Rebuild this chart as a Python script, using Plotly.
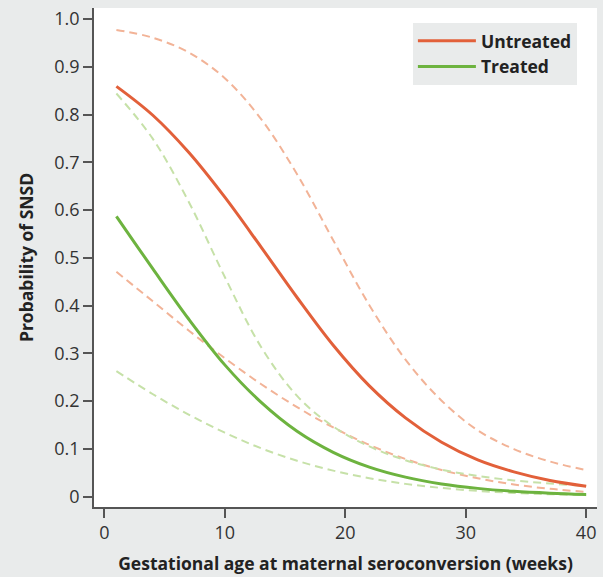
import plotly.graph_objects as go

weeks = [1, 4, 7, 10, 13, 16, 19, 22, 25, 28, 31, 34, 37, 40]

untreated = [0.859, 0.799, 0.721, 0.627, 0.523, 0.417, 0.317, 0.232, 0.165, 0.114, 0.077, 0.052, 0.034, 0.022]
untreated_upper = [0.977, 0.961, 0.930, 0.876, 0.791, 0.675, 0.537, 0.401, 0.287, 0.201, 0.139, 0.0998, 0.0737, 0.0557]
untreated_lower = [0.471, 0.4095, 0.348, 0.290, 0.236, 0.1875, 0.145, 0.1085, 0.079, 0.056, 0.0386, 0.0257, 0.0165, 0.0102]

treated = [0.587, 0.478, 0.372, 0.276, 0.198, 0.137, 0.093, 0.062, 0.041, 0.0268, 0.0175, 0.0113, 0.0074, 0.0048]
treated_upper = [0.844, 0.750, 0.6175, 0.460, 0.314, 0.211, 0.147, 0.1053, 0.0765, 0.0567, 0.0435, 0.0342, 0.0276, 0.0227]
treated_lower = [0.263, 0.215, 0.172, 0.134, 0.1016, 0.0753, 0.0547, 0.0388, 0.0269, 0.0183, 0.0122, 0.0080, 0.0052, 0.0033]

x_ticks = [0, 10, 20, 30, 40]
y_ticks = [0, 0.1, 0.2, 0.3, 0.4, 0.5, 0.6, 0.7, 0.8, 0.9, 1.0]
y_tick_labels = ["0", "0.1", "0.2", "0.3", "0.4", "0.5", "0.6", "0.7", "0.8", "0.9", "1.0"]

RED = "#e2603a"
GREEN = "#6db33f"
RED_L = "#f2b397"
GREEN_L = "#c6e1a8"
BG = "#e9ebeb"
AX = "#555555"
FONT = "Open Sans"

fig = go.Figure()

def dashed(y, color):
    fig.add_trace(go.Scatter(x=weeks, y=y, mode="lines", showlegend=False,
                             line=dict(color=color, width=2, dash="8px,5px", shape="spline"),
                             hoverinfo="skip"))

dashed(untreated_upper, RED_L)
dashed(untreated_lower, RED_L)
dashed(treated_upper, GREEN_L)
dashed(treated_lower, GREEN_L)

fig.add_trace(go.Scatter(x=weeks, y=untreated, mode="lines", name="Untreated",
                         line=dict(color=RED, width=3, shape="spline")))
fig.add_trace(go.Scatter(x=weeks, y=treated, mode="lines", name="Treated",
                         line=dict(color=GREEN, width=3, shape="spline")))

fig.update_layout(
    width=603, height=577,
    margin=dict(l=94, r=6, t=7, b=69),
    paper_bgcolor=BG, plot_bgcolor="white",
    font=dict(family=FONT, size=16, color="#333333"),
    showlegend=True,
    legend=dict(x=0.634, y=0.97, xanchor="left", yanchor="top",
                bgcolor=BG, borderwidth=0,
                font=dict(family=FONT, size=17.5, color="#222222", weight="bold"),
                traceorder="normal", itemwidth=58,
                tracegroupgap=0),
    xaxis=dict(range=[-0.86, 40.9], tickvals=x_ticks, ticks="outside", ticklen=9,
               tickwidth=1.5, tickcolor=AX, showline=True, linecolor=AX, linewidth=1.5,
               showgrid=False, zeroline=False, mirror=False,
               tickfont=dict(size=18, color="#333333"),
               title=dict(text="Gestational age at maternal seroconversion (weeks)",
                          font=dict(size=17.5, color="#222222", weight="bold"), standoff=14)),
    yaxis=dict(range=[-0.0215, 1.023], tickvals=y_ticks, ticktext=y_tick_labels,
               ticks="outside", ticklen=9, tickwidth=1.5, tickcolor=AX,
               showline=True, linecolor=AX, linewidth=1.5,
               showgrid=False, zeroline=False,
               tickfont=dict(size=18, color="#333333"),
               title=dict(text="Probability of SNSD",
                          font=dict(size=17.5, color="#222222", weight="bold"), standoff=16)),
)

fig.write_html("out.html", config={"displayModeBar": False},
               post_script="document.body.style.margin='0';document.body.style.overflow='hidden';")
